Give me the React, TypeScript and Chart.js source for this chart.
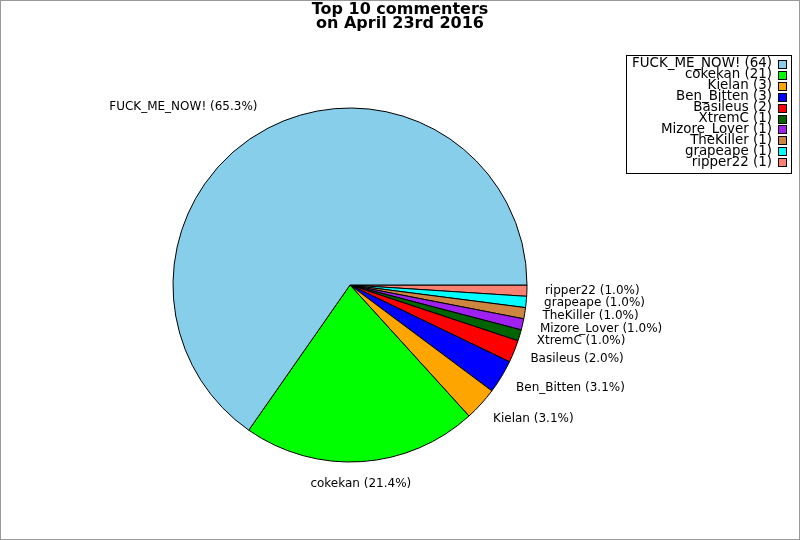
import React, { useEffect, useRef } from "react";
import { Chart, registerables } from "chart.js";

Chart.register(...registerables);

const titleLines = ["Top 10 commenters", "on April 23rd 2016"];
const names = ["FUCK_ME_NOW!", "cokekan", "Kielan", "Ben_Bitten", "Basileus", "XtremC", "Mizore_Lover", "TheKiller", "grapeape", "ripper22"];
const counts = [64, 21, 3, 3, 2, 1, 1, 1, 1, 1];
const colors = ["#87CEEB", "#00FF00", "#FFA500", "#0000FF", "#FF0000", "#006400", "#A020F0", "#CD853F", "#00FFFF", "#FA8072"];

const FONT = "'DejaVu Sans', sans-serif";

export default function App() {
  const ref = useRef<HTMLCanvasElement | null>(null);

  useEffect(() => {
    document.body.style.margin = "0";
    const total = counts.reduce((a, b) => a + b, 0);
    // reversed so the clockwise drawing reproduces the counter-clockwise original
    const rNames = [...names].reverse();
    const rCounts = [...counts].reverse();
    const rColors = [...colors].reverse();

    const overlay = {
      id: "overlay",
      beforeDraw(chart: any) {
        const ctx = chart.ctx;
        ctx.save();
        ctx.fillStyle = "#fff";
        ctx.fillRect(0, 0, chart.width, chart.height);
        ctx.restore();
      },
      afterDraw(chart: any) {
        const ctx = chart.ctx;
        ctx.save();
        // outer border
        ctx.strokeStyle = "#999";
        ctx.lineWidth = 1;
        ctx.strokeRect(0.5, 0.5, chart.width - 1, chart.height - 1);
        // title
        ctx.fillStyle = "#000";
        ctx.font = `bold 16px ${FONT}`;
        ctx.textAlign = "center";
        ctx.textBaseline = "middle";
        titleLines.forEach((t, i) => ctx.fillText(t, 400, 10 + i * 14));
        // slice labels
        const meta = chart.getDatasetMeta(0);
        ctx.font = `12px ${FONT}`;
        meta.data.forEach((arc: any, i: number) => {
          const mid = (arc.startAngle + arc.endAngle) / 2;
          const c = Math.cos(mid);
          const s = Math.sin(mid);
          let px = arc.x + c * 200;
          const py = arc.y + s * 200 - 1;
          if (c > 0.3) {
            ctx.textAlign = "left";
            px -= 5;
          } else if (c < -0.3) {
            ctx.textAlign = "right";
          } else {
            ctx.textAlign = "center";
            px -= 2;
          }
          const pct = ((rCounts[i] / total) * 100).toFixed(1);
          ctx.fillText(`${rNames[i]} (${pct}%)`, px, py);
        });
        // legend
        ctx.strokeStyle = "#000";
        ctx.strokeRect(626.5, 55.5, 165, 118);
        ctx.font = `13.4px ${FONT}`;
        ctx.textAlign = "right";
        names.forEach((n, i) => {
          const y = 64 + i * 10.9;
          ctx.fillStyle = "#000";
          ctx.fillText(`${n} (${counts[i]})`, 772, y);
          ctx.fillStyle = colors[i];
          ctx.fillRect(778.5, Math.round(y - 4) + 0.5, 8, 8);
          ctx.strokeRect(778.5, Math.round(y - 4) + 0.5, 8, 8);
        });
        ctx.restore();
      },
    };

    const chart = new Chart(ref.current as HTMLCanvasElement, {
      type: "pie",
      data: {
        labels: rNames,
        datasets: [
          {
            data: rCounts,
            backgroundColor: rColors,
            borderColor: "#000",
            borderWidth: 1,
          },
        ],
      },
      options: {
        responsive: false,
        animation: false,
        rotation: 90,
        radius: 177,
        layout: { padding: { left: 100, right: 200, top: 100, bottom: 70 } },
        plugins: {
          legend: { display: false },
          tooltip: { enabled: false },
          title: { display: false },
        },
      } as any,
      plugins: [overlay],
    });
    return () => chart.destroy();
  }, []);

  return <canvas ref={ref} width={800} height={540} style={{ display: "block" }} />;
}
